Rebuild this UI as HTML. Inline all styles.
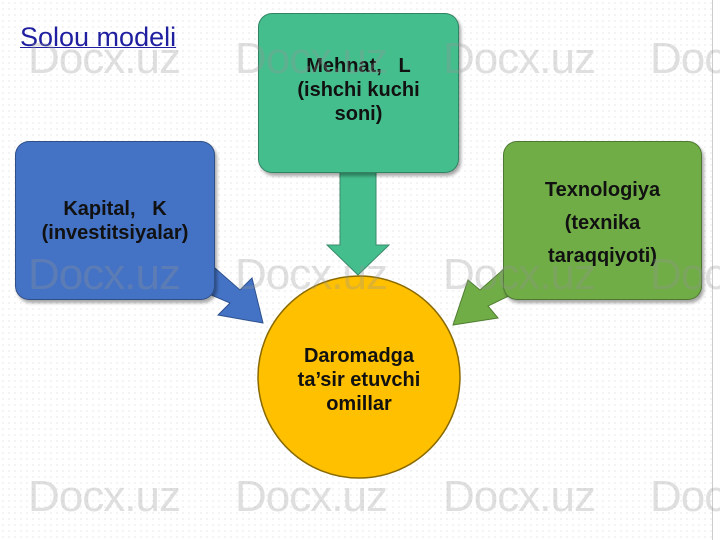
<!DOCTYPE html>
<html><head><style>
body{margin:0;width:720px;height:540px;overflow:hidden;background:#fff;font-family:"Liberation Sans",sans-serif;position:relative}
.bg{position:absolute;left:0;top:0;width:712px;height:540px;background-image:radial-gradient(#d8d8d8 0.7px,transparent 0.8px);background-size:6px 6px;border-right:1px solid #ccc}
.wm{position:absolute;font-size:44px;color:rgba(150,150,150,0.3);letter-spacing:-1px;z-index:5}
.box{position:absolute;border-radius:14px;display:flex;align-items:center;justify-content:center;text-align:center;font-weight:bold;font-size:20px;line-height:24px;color:#111;box-shadow:2px 3px 3px rgba(0,0,0,.35);border:1px solid rgba(0,0,0,.3)}
</style></head><body>
<div class="bg"></div>
<div class="wm" style="left:28px;top:34px">Docx.uz</div>
<div class="wm" style="left:235px;top:34px">Docx.uz</div>
<div class="wm" style="left:443px;top:34px">Docx.uz</div>
<div class="wm" style="left:650px;top:34px">Doc</div>
<div class="wm" style="left:28px;top:250px">Docx.uz</div>
<div class="wm" style="left:235px;top:250px">Docx.uz</div>
<div class="wm" style="left:443px;top:250px">Docx.uz</div>
<div class="wm" style="left:650px;top:250px">Doc</div>
<div class="wm" style="left:28px;top:472px">Docx.uz</div>
<div class="wm" style="left:235px;top:472px">Docx.uz</div>
<div class="wm" style="left:443px;top:472px">Docx.uz</div>
<div class="wm" style="left:650px;top:472px">Doc</div>
<div style="position:absolute;left:20px;top:22px;font-size:27px;color:#1f1fa0;text-decoration:underline;text-decoration-thickness:1px">Solou modeli</div>
<svg width="720" height="540" style="position:absolute;left:0;top:0">
<polygon points="340,170 376,170 376,245 389,245 358,275 327,245 340,245" fill="#45be8e" stroke="#3a8a6a"/>
<polygon points="195,288 215,268 240,290 252,278 263,323 218,315 230,303" fill="#4472c4" stroke="#2f528f"/>
<polygon points="525,288 505,268 480,290 468,280 453,325 498,318 488,306" fill="#70ad47" stroke="#507e32"/>
<circle cx="359" cy="377" r="101" fill="#ffc000" stroke="#8a6a00" stroke-width="1.5"/>
</svg>
<div class="box" style="left:15px;top:141px;width:198px;height:157px;background:#4472c4">Kapital,&nbsp;&nbsp; K<br>(investitsiyalar)</div>
<div class="box" style="left:258px;top:13px;width:199px;height:158px;background:#45be8e;align-items:flex-start;padding-top:0"><div style="margin-top:40px">Mehnat,&nbsp;&nbsp; L<br>(ishchi kuchi<br>soni)</div></div>
<div class="box" style="left:503px;top:141px;width:197px;height:157px;background:#70ad47;align-items:flex-start"><div style="margin-top:35px;line-height:26px">Texnologiya<br><span style="line-height:40px">(texnika</span><br>taraqqiyoti)</div></div>
<div style="position:absolute;left:258px;top:344px;width:202px;text-align:center;font-weight:bold;font-size:20px;line-height:24px;color:#111">Daromadga<br>ta’sir etuvchi<br>omillar</div>
</body></html>
